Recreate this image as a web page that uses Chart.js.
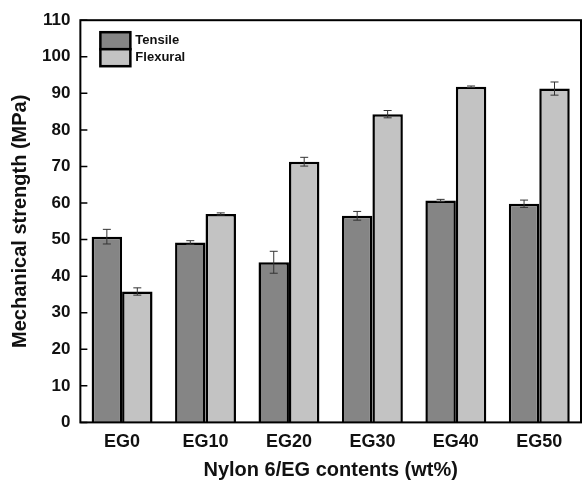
<!DOCTYPE html>
<html>
<head>
<meta charset="utf-8">
<script src="https://cdn.jsdelivr.net/npm/chart.js@4"></script>
<style>
  html, body { margin: 0; padding: 0; background: #fff; }
  #wrap { width: 584px; height: 486px; }
</style>
</head>
<body>
<div id="wrap"><canvas id="chart"></canvas></div>
<script>
// data
var categories = ["EG0", "EG10", "EG20", "EG30", "EG40", "EG50"];
var tensile = [50.8, 49.2, 43.8, 56.5, 60.7, 59.8];
var tensileErr = [2.0, 0.5, 3.0, 1.2, 0.3, 1.0];
var flexural = [35.8, 57.0, 71.3, 84.3, 91.8, 91.3];
var flexuralErr = [1.0, 0.3, 1.2, 1.0, 0.2, 1.8];
var yTicks = [0, 10, 20, 30, 40, 50, 60, 70, 80, 90, 100, 110];

var FONT = "'Liberation Sans', Arial, sans-serif";

// error bars drawn through the y scale
var errorBars = {
    id: "errorBars",
    afterDatasetsDraw: function(chart) {
        var ctx = chart.ctx;
        var y = chart.scales.y;
        chart.data.datasets.forEach(function(ds, i) {
            var meta = chart.getDatasetMeta(i);
            meta.data.forEach(function(bar, j) {
                var v = ds.data[j], e = ds.errors[j];
                var top = y.getPixelForValue(v + e);
                var bot = y.getPixelForValue(v - e);
                ctx.save();
                ctx.strokeStyle = "#333";
                ctx.lineWidth = 1;
                ctx.beginPath();
                ctx.moveTo(bar.x, top); ctx.lineTo(bar.x, bot);
                ctx.moveTo(bar.x - 4, top); ctx.lineTo(bar.x + 4, top);
                ctx.moveTo(bar.x - 4, bot); ctx.lineTo(bar.x + 4, bot);
                ctx.stroke();
                ctx.restore();
            });
        });
    }
};

// box around the plot, inward y ticks, legend inside top-left
var frameAndLegend = {
    id: "frameAndLegend",
    afterDraw: function(chart) {
        var ctx = chart.ctx, a = chart.chartArea, ys = chart.scales.y;
        ctx.save();
        ctx.strokeStyle = "#000";
        ctx.lineWidth = 2;
        ctx.strokeRect(a.left, a.top, a.right - a.left, a.bottom - a.top);

        // tick marks pointing into the plot
        ctx.lineWidth = 1.5;
        ctx.beginPath();
        ys.ticks.forEach(function(t, i) {
            var py = ys.getPixelForTick(i);
            ctx.moveTo(a.left, py);
            ctx.lineTo(a.left + 7, py);
        });
        ctx.stroke();

        // legend
        var x = a.left + 20, y = a.top + 12;
        chart.data.datasets.forEach(function(ds, i) {
            var by = y + i * 17;
            ctx.fillStyle = ds.backgroundColor;
            ctx.fillRect(x, by, 30, 17);
            ctx.lineWidth = 2.5;
            ctx.strokeStyle = "#000";
            ctx.strokeRect(x, by, 30, 17);
            ctx.fillStyle = "#111";
            ctx.font = "bold 13px " + FONT;
            ctx.textBaseline = "middle";
            ctx.fillText(ds.label, x + 35, by + 8.5);
        });
        ctx.restore();
    }
};

var ctx = document.getElementById("chart").getContext("2d");
var chart = new Chart(ctx, {
    type: "bar",
    data: {
        labels: categories,
        datasets: [{
            label: "Tensile",
            data: tensile,
            errors: tensileErr,
            backgroundColor: "#858585",
            borderColor: "#000",
            borderWidth: 2.5
        }, {
            label: "Flexural",
            data: flexural,
            errors: flexuralErr,
            backgroundColor: "#c3c3c3",
            borderColor: "#000",
            borderWidth: 2.5
        }]
    },
    options: {
        responsive: true,
        maintainAspectRatio: false,
        animation: false,
        datasets: { bar: { categoryPercentage: 0.73, barPercentage: 1.0 } },
        layout: { padding: { top: 3, right: 3, left: 4, bottom: 0 } },
        plugins: {
            legend: { display: false },
            tooltip: { enabled: false }
        },
        scales: {
            x: {
                grid: { display: false },
                border: { display: false },
                ticks: { color: "#111", font: { family: FONT, size: 18, weight: "bold" }, padding: 1 },
                title: {
                    display: true,
                    text: "Nylon 6/EG contents (wt%)",
                    color: "#111",
                    font: { family: FONT, size: 20, weight: "bold" },
                    padding: { top: 4 }
                }
            },
            y: {
                min: 0,
                max: 110,
                afterBuildTicks: function(scale) {
                    scale.ticks = yTicks.map(function(v) { return { value: v }; });
                },
                grid: { display: false, drawTicks: false },
                border: { display: false },
                ticks: { color: "#111", font: { family: FONT, size: 17, weight: "bold" }, padding: 10 },
                title: {
                    display: true,
                    text: "Mechanical strength (MPa)",
                    color: "#111",
                    font: { family: FONT, size: 20, weight: "bold" },
                    padding: { bottom: 0 }
                }
            }
        }
    },
    plugins: [errorBars, frameAndLegend]
});
</script>
</body>
</html>
